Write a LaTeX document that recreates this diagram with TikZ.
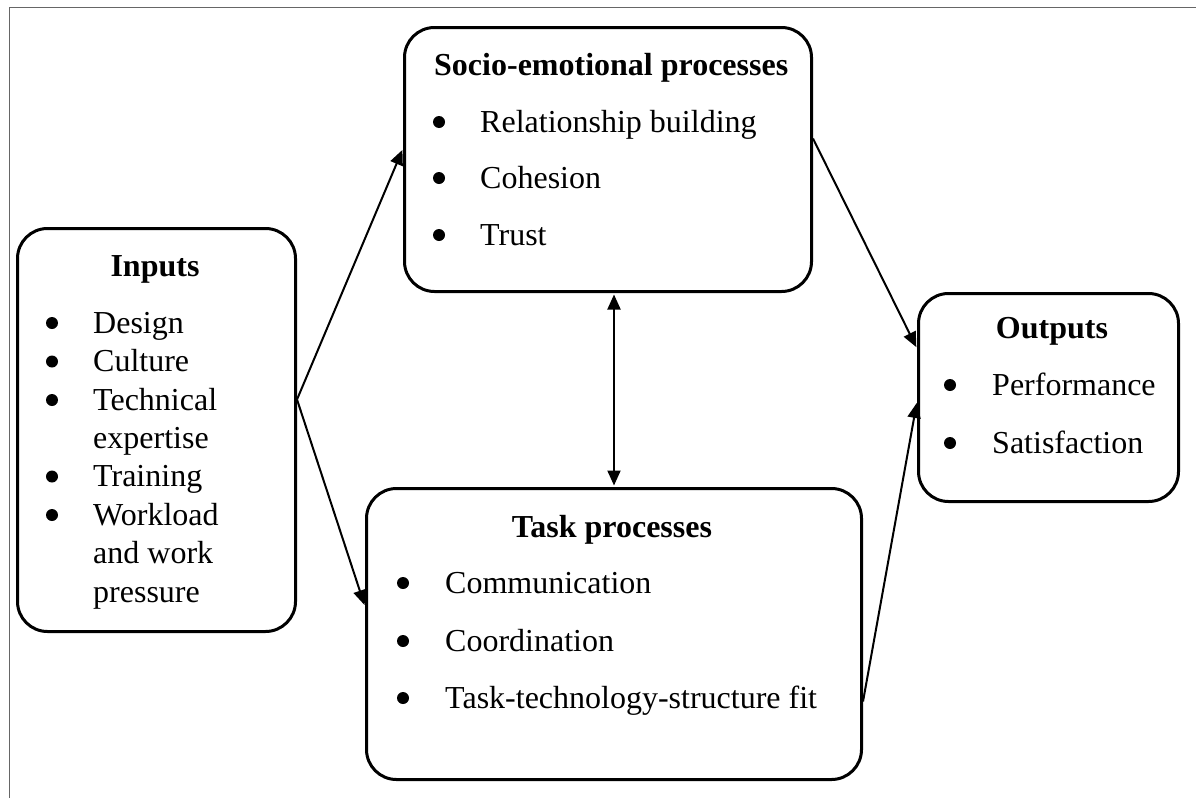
\documentclass[tikz,border=0pt]{standalone}
\usepackage{fontspec}
\setmainfont{Liberation Serif}
\usetikzlibrary{arrows.meta}
\begin{document}
\begin{tikzpicture}[x=1pt,y=-1pt,
 box/.style={draw, line width=3pt, rounded corners=30pt, inner sep=0pt, anchor=north west},
 txt/.style={inner sep=0pt, anchor=base west, font=\fontsize{32}{38}\selectfont},
 ttl/.style={inner sep=0pt, anchor=base, font=\fontsize{32}{38}\selectfont\bfseries},
 ttlw/.style={inner sep=0pt, anchor=base west, font=\fontsize{32}{38}\selectfont\bfseries},
 bul/.style={circle, fill, inner sep=0pt, minimum size=12pt},
 arr/.style={line width=2pt, shorten >=1.5pt, -{Triangle[length=15pt,width=13pt]}},
 arrb/.style={line width=2pt, shorten >=1.5pt, shorten <=1.5pt, {Triangle[length=15pt,width=13pt]}-{Triangle[length=15pt,width=13pt]}},
 framed/.style={draw=black!60, line width=1.2pt}]
\useasboundingbox (0,0) rectangle (1196,798);
\draw[framed] (9.5,798) -- (9.5,7.5) -- (1196,7.5);
% boxes
\node[box, minimum width=278pt, minimum height=403pt] (inp) at (16,227) {};
\node[box, minimum width=407pt, minimum height=264pt] (soc) at (403,26) {};
\node[box, minimum width=495pt, minimum height=291pt] (tsk) at (365,487) {};
\node[box, minimum width=260pt, minimum height=208pt] (out) at (917,292) {};
% Inputs
\node[ttl] (inT) at (155,276) {Inputs};
\node[bul] (ib1) at (52,323) {}; \node[txt] (i1) at (93,333) {Design};
\node[bul] (ib2) at (52,361.5) {}; \node[txt] (i2) at (93,371.5) {Culture};
\node[bul] (ib3) at (52,400) {}; \node[txt] (i3) at (93,410) {Technical};
\node[txt] (i4) at (93,448) {expertise};
\node[bul] (ib5) at (52,476.5) {}; \node[txt] (i5) at (93,486.5) {Training};
\node[bul] (ib6) at (52,515) {}; \node[txt] (i6) at (93,525) {Workload};
\node[txt] (i7) at (93,563) {and work};
\node[txt] (i8) at (93,602) {pressure};
% Socio
\node[ttlw] (soT) at (434,75) {Socio-emotional processes};
\node[bul] (sb1) at (439,122) {}; \node[txt] (s1) at (480,132) {Relationship building};
\node[bul] (sb2) at (439,178) {}; \node[txt] (s2) at (480,188) {Cohesion};
\node[bul] (sb3) at (439,235) {}; \node[txt] (s3) at (480,245) {Trust};
% Task
\node[ttl] (tkT) at (612,537) {Task processes};
\node[bul] (tb1) at (403,583) {}; \node[txt] (t1) at (445,593) {Communication};
\node[bul] (tb2) at (403,641) {}; \node[txt] (t2) at (445,651) {Coordination};
\node[bul] (tb3) at (403,698) {}; \node[txt] (t3) at (445,708) {Task-technology-structure fit};
% Outputs
\node[ttl] (ouT) at (1052,338) {Outputs};
\node[bul] (ob1) at (950,385) {}; \node[txt] (o1) at (992,395) {Performance};
\node[bul] (ob2) at (950,443) {}; \node[txt] (o2) at (992,453) {Satisfaction};
% connectors
\draw[arr] ([yshift=30.5pt]inp.east) -- ([yshift=11pt]soc.west);
\draw[arr] ([yshift=30.5pt]inp.east) -- ([yshift=27.5pt]tsk.west);
\draw[arr] ([yshift=21pt]soc.east) -- ([yshift=49pt]out.west);
\draw[arr] ([yshift=-67.5pt]tsk.east) -- ([yshift=-4pt]out.west);
\draw[arrb] (soc.south -| tsk.north) -- (tsk.north);
\end{tikzpicture}
\end{document}
